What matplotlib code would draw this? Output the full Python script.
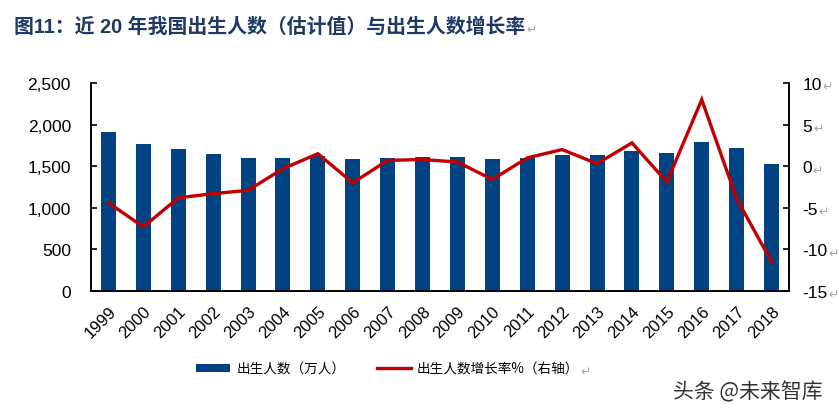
import matplotlib
matplotlib.use("Agg")
import matplotlib.pyplot as plt
from matplotlib.ticker import FuncFormatter
from matplotlib.patches import Patch
from matplotlib.lines import Line2D

plt.rcParams['font.family'] = ['Liberation Sans', 'Noto Sans CJK SC', 'DejaVu Sans']

years = ['1999', '2000', '2001', '2002', '2003', '2004', '2005', '2006', '2007', '2008',
         '2009', '2010', '2011', '2012', '2013', '2014', '2015', '2016', '2017', '2018']
# births, 10k people (left axis)
births = [1909, 1771, 1702, 1647, 1599, 1593, 1617, 1585, 1595, 1608,
          1615, 1592, 1604, 1635, 1640, 1687, 1655, 1786, 1723, 1523]
# growth rate, % (right axis)
growth = [-4.4, -7.3, -3.8, -3.3, -2.9, -0.3, 1.5, -2.0, 0.7, 0.8,
          0.5, -1.6, 1.0, 2.0, 0.3, 2.8, -1.9, 8.0, -3.9, -11.5]

left_ticks = [0, 500, 1000, 1500, 2000, 2500]
right_ticks = [-15, -10, -5, 0, 5, 10]

BLUE = '#004282'
RED = '#C00000'
GREY = '#A6A6A6'
RET = '\u21b5'

fig = plt.figure(figsize=(8.39, 4.14), dpi=100)
ax = fig.add_axes([0.1085, 0.2947, 0.8319, 0.5024])
ax2 = ax.twinx()

x = list(range(len(years)))
ax.bar(x, births, width=0.43, color=BLUE, zorder=2)
ax2.plot(x, growth, color=RED, lw=2.4, solid_joinstyle='miter', zorder=3)

ax.set_xlim(-0.5, len(years) - 0.5)
ax.set_ylim(0, 2500)
ax.set_yticks(left_ticks)
ax.yaxis.set_major_formatter(FuncFormatter(lambda v, p: f'{int(v):,}'))
ax2.set_ylim(-15, 10)
ax2.set_yticks(right_ticks)
ax2.set_yticklabels([str(t) for t in right_ticks])

ax.set_xticks(x)
ax.set_xticklabels(years, rotation=45, ha='right', rotation_mode='anchor')
ax.tick_params(axis='x', length=0, pad=9, labelsize=12)
ax.tick_params(axis='y', direction='in', length=4, width=1.2, pad=14.5, labelsize=12.5)
ax2.tick_params(axis='y', direction='in', length=4, width=1.2, pad=9.5, labelsize=12.5)

for a in (ax, ax2):
    a.spines['top'].set_visible(False)
    for s in ('left', 'right', 'bottom'):
        a.spines[s].set_linewidth(1.2)
        a.spines[s].set_color('black')

# title
title = fig.text(0.017, 0.935, '图11：近 20 年我国出生人数（估计值）与出生人数增长率',
                 fontsize=14.3, fontweight='bold', color='#1F3864',
                 family=['Liberation Sans', 'Noto Sans CJK SC'], va='center')

# legend
handles = [Patch(facecolor=BLUE, edgecolor='none'),
           Line2D([0], [0], color=RED, lw=2.4)]
labels = ['出生人数（万人）', '出生人数增长率%（右轴）']
leg = fig.legend(handles, labels, loc='center', bbox_to_anchor=(0.462, 0.107), ncol=2,
                 frameon=False, handlelength=2.5, handleheight=0.45,
                 handletextpad=0.45, columnspacing=2.3,
                 prop={'family': ['Noto Sans CJK SC'], 'size': 9.8})

# watermark
fig.text(0.802, 0.053, '头条 @未来智库', fontsize=15, color='#333333',
         family=['Noto Sans CJK SC'], va='center', ha='left')

# grey return marks right after some texts
fig.canvas.draw()
r = fig.canvas.get_renderer()
inv = fig.transFigure.inverted()


def mark_after(artist, dy=0.0):
    bb = artist.get_window_extent(r)
    x0, y0 = inv.transform((bb.x1 + 1, (bb.y0 + bb.y1) / 2))
    fig.text(x0, y0 + dy, RET, color=GREY, fontsize=9, va='center', ha='left',
             family=['DejaVu Sans'])


for lab in ax2.get_yticklabels():
    mark_after(lab, -0.005)
mark_after(title, -0.008)
mark_after(leg.get_texts()[-1], -0.006)

fig.savefig('out.png', dpi=100)
